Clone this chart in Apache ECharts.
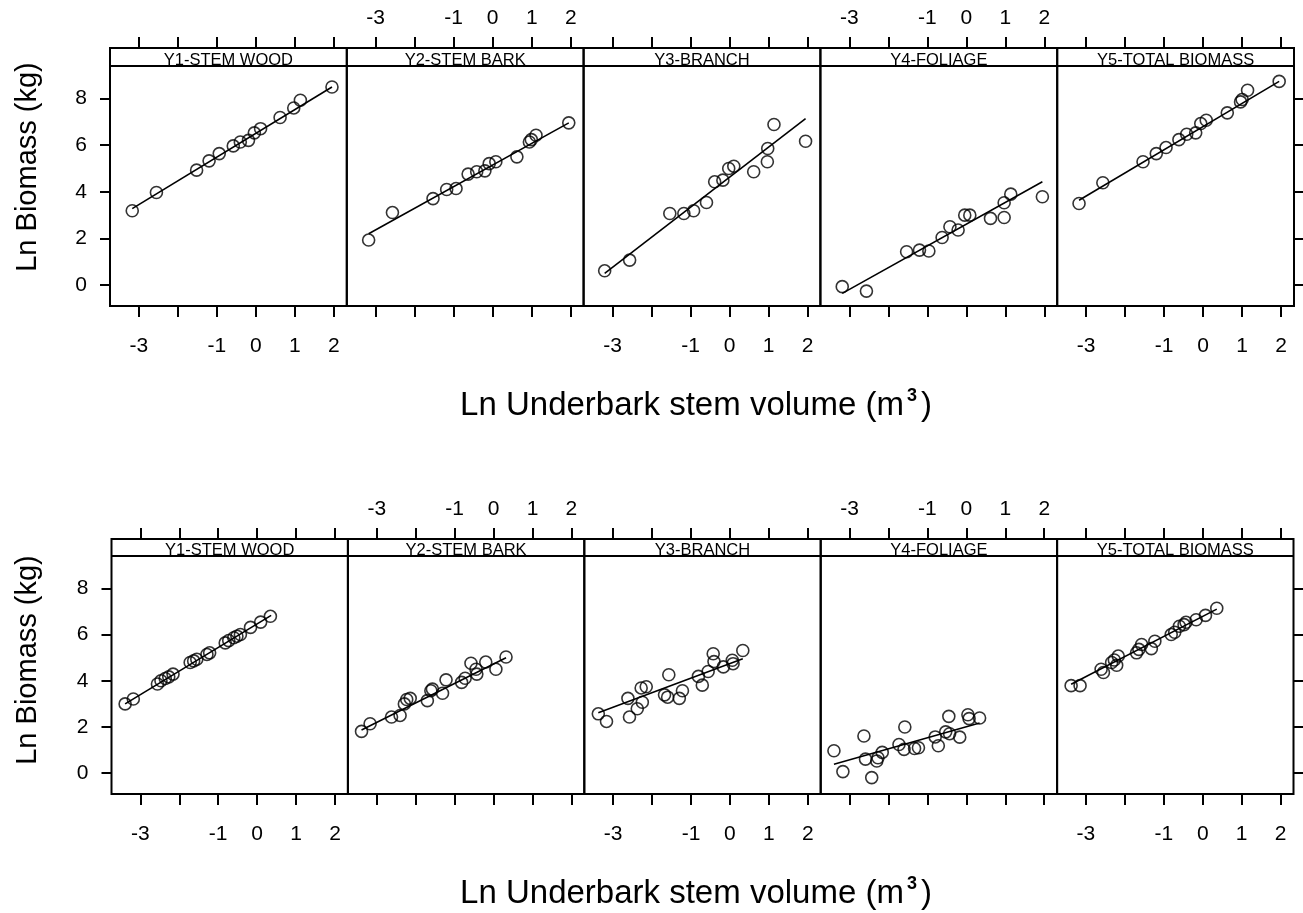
<!DOCTYPE html>
<html><head><meta charset="utf-8">
<script src="https://cdn.jsdelivr.net/npm/echarts@6/dist/echarts.min.js"></script>
<style>html,body{margin:0;padding:0;background:#fff}#c{width:1303px;height:913px}</style>
</head><body><div id="c"></div>
<script>
// ---------- DATA ----------
const panelTitles = ['Y1-STEM WOOD', 'Y2-STEM BARK', 'Y3-BRANCH', 'Y4-FOLIAGE', 'Y5-TOTAL BIOMASS'];
const xTickValues = [-3, -2, -1, 0, 1, 2];
const xLabelValues = [-3, -1, 0, 1, 2];
const yTickValues = [0, 2, 4, 6, 8];
const yLabelValues = [0, 2, 4, 6, 8];
const yAxisTitle = 'Ln Biomass (kg)';
const xAxisTitleMain = 'Ln Underbark stem volume (m';
const xAxisTitleSup = '3';

// Top row: [ln volume, ln biomass]
const topStemWood = [[-3.17,3.19],[-2.55,3.97],[-1.52,4.93],[-1.20,5.33],[-0.94,5.64],[-0.58,5.97],[-0.40,6.14],[-0.19,6.21],[-0.04,6.53],[0.12,6.71],[0.62,7.19],[0.97,7.60],[1.14,7.93],[1.95,8.50]];
const topStemBark = [[-3.18,1.93],[-2.57,3.11],[-1.53,3.71],[-1.18,4.10],[-0.94,4.14],[-0.63,4.76],[-0.41,4.86],[-0.20,4.90],[-0.09,5.21],[0.08,5.29],[0.62,5.50],[0.94,6.14],[0.99,6.24],[1.11,6.43],[1.95,6.96]];
const topBranch = [[-3.20,0.61],[-2.56,1.07],[-1.53,3.07],[-1.17,3.07],[-0.92,3.19],[-0.59,3.54],[-0.38,4.43],[-0.17,4.50],[-0.02,5.00],[0.11,5.10],[0.62,4.86],[0.97,5.29],[0.98,5.86],[1.14,6.89],[1.95,6.17]];
const topFoliage = [[-3.18,-0.07],[-2.56,-0.26],[-1.53,1.43],[-1.20,1.50],[-0.96,1.46],[-0.62,2.04],[-0.42,2.50],[-0.21,2.36],[-0.04,3.00],[0.09,3.00],[0.62,2.86],[0.97,2.90],[0.97,3.53],[1.14,3.90],[1.95,3.79]];
const topTotal = [[-3.18,3.50],[-2.57,4.39],[-1.54,5.29],[-1.20,5.64],[-0.95,5.90],[-0.62,6.24],[-0.42,6.47],[-0.19,6.53],[-0.06,6.93],[0.08,7.07],[0.62,7.39],[0.96,7.86],[1.00,7.96],[1.14,8.36],[1.95,8.74]];
// fitted lines: [x0, y0, x1, y1]
const topFits = [[-3.17,3.28,1.95,8.50],[-3.18,2.20,1.95,6.96],[-3.20,0.50,1.95,7.14],[-3.18,-0.36,1.95,4.43],[-3.18,3.64,1.95,8.74]];

// Bottom row
const botStemWood = [[-3.39,3.00],[-3.18,3.21],[-2.56,3.86],[-2.47,4.00],[-2.36,4.10],[-2.27,4.17],[-2.16,4.29],[-1.72,4.79],[-1.63,4.86],[-1.55,4.93],[-1.29,5.14],[-1.22,5.21],[-0.82,5.64],[-0.73,5.74],[-0.60,5.86],[-0.52,5.93],[-0.43,6.00],[-0.17,6.31],[0.09,6.54],[0.34,6.79]];
const botStemBark = [[-3.39,1.81],[-3.17,2.14],[-2.62,2.43],[-2.40,2.50],[-2.29,3.00],[-2.23,3.19],[-2.14,3.24],[-1.70,3.14],[-1.61,3.57],[-1.57,3.64],[-1.31,3.46],[-1.22,4.04],[-0.82,3.93],[-0.73,4.11],[-0.58,4.76],[-0.45,4.50],[-0.43,4.29],[-0.20,4.81],[0.06,4.50],[0.32,5.03]];
const botBranch = [[-3.38,2.57],[-3.17,2.24],[-2.62,3.24],[-2.58,2.43],[-2.38,2.79],[-2.25,3.07],[-2.28,3.69],[-2.15,3.74],[-1.68,3.39],[-1.60,3.29],[-1.57,4.26],[-1.30,3.24],[-1.22,3.57],[-0.81,4.19],[-0.71,3.81],[-0.56,4.40],[-0.43,5.17],[-0.41,4.83],[-0.17,4.60],[0.08,4.74],[0.06,4.89],[0.33,5.31]];
const botFoliage = [[-3.40,0.97],[-3.17,0.07],[-2.63,1.61],[-2.59,0.61],[-2.43,-0.19],[-2.30,0.53],[-2.27,0.67],[-2.16,0.90],[-1.73,1.24],[-1.60,1.03],[-1.58,2.00],[-1.33,1.07],[-1.23,1.10],[-0.80,1.57],[-0.72,1.19],[-0.53,1.79],[-0.43,1.71],[-0.45,2.46],[-0.17,1.56],[0.04,2.53],[0.07,2.36],[0.34,2.39]];
const botTotal = [[-3.38,3.79],[-3.15,3.79],[-2.61,4.50],[-2.55,4.36],[-2.34,4.79],[-2.27,4.90],[-2.17,5.07],[-2.21,4.67],[-1.70,5.21],[-1.64,5.36],[-1.57,5.57],[-1.32,5.39],[-1.23,5.71],[-0.81,6.00],[-0.72,6.10],[-0.60,6.36],[-0.48,6.43],[-0.43,6.53],[-0.17,6.64],[0.07,6.83],[0.36,7.14]];
const botFits = [[-3.39,3.00,0.36,6.83],[-3.39,1.87,0.32,5.00],[-3.38,2.62,0.33,4.95],[-3.40,0.39,0.34,2.17],[-3.38,3.85,0.36,7.10]];

// ---------- LAYOUT ----------
const FONT = 'Liberation Sans, Arial, Helvetica, sans-serif';
const xMin = -3.74, xMax = 2.33, yMin = -0.9, yMax = 9.4;
const rows = [
  {panelTop: 48, stripBottom: 66, panelBottom: 306, left: 110, width: 236.8,
   data: [topStemWood, topStemBark, topBranch, topFoliage, topTotal], fits: topFits, yTitleY: 167, xTitleY: 406},
  {panelTop: 539, stripBottom: 556, panelBottom: 794, left: 111.5, width: 236.4,
   data: [botStemWood, botStemBark, botBranch, botFoliage, botTotal], fits: botFits, yTitleY: 660, xTitleY: 894}
];

const option = {animation: false, backgroundColor: '#fff', grid: [], xAxis: [], yAxis: [], series: [], graphic: []};
const tickStyle = {color: '#000', width: 2};
const labelStyle = {fontSize: 21, color: '#000', fontFamily: FONT};

rows.forEach((row, r) => {
  for (let c = 0; c < 5; c++) {
    const gi = r * 5 + c;
    const left = row.left + c * row.width;
    const h = row.panelBottom - row.stripBottom;
    option.grid.push({left: left, top: row.stripBottom, width: row.width, height: h, show: false});
    option.xAxis.push({
      gridIndex: gi, type: 'value', position: 'bottom', min: xMin, max: xMax,
      splitLine: {show: false}, axisLine: {show: false, onZero: false},
      axisTick: {show: true, inside: false, length: 11, customValues: xTickValues, lineStyle: tickStyle},
      axisLabel: Object.assign({show: c % 2 === 0, customValues: xLabelValues, margin: 30}, labelStyle)
    });
    option.xAxis.push({
      gridIndex: gi, type: 'value', position: 'top', offset: row.stripBottom - row.panelTop, min: xMin, max: xMax,
      splitLine: {show: false}, axisLine: {show: false, onZero: false},
      axisTick: {show: true, inside: false, length: 11, customValues: xTickValues, lineStyle: tickStyle},
      axisLabel: Object.assign({show: c % 2 === 1, customValues: xLabelValues, margin: 19}, labelStyle)
    });
    option.yAxis.push({
      gridIndex: gi, type: 'value', position: c === 4 ? 'right' : 'left', min: yMin, max: yMax,
      splitLine: {show: false}, axisLine: {show: false, onZero: false},
      axisTick: {show: c === 0 || c === 4, inside: false, length: 10, customValues: yTickValues, lineStyle: tickStyle},
      axisLabel: Object.assign({show: c === 0, customValues: yLabelValues, margin: 23}, labelStyle)
    });
    const f = row.fits[c];
    option.series.push({
      type: 'line', xAxisIndex: 2 * gi, yAxisIndex: gi, data: [[f[0], f[1]], [f[2], f[3]]],
      symbol: 'none', lineStyle: {color: '#000', width: 1.6}, z: 2
    });
    option.series.push({
      type: 'scatter', xAxisIndex: 2 * gi, yAxisIndex: gi, data: row.data[c],
      symbol: 'circle', symbolSize: 12,
      itemStyle: {color: 'rgba(0,0,0,0)', borderColor: '#000', borderWidth: 1.6}, z: 3
    });
    // strip text, clipped look
    option.graphic.push({type: 'text', x: left + row.width / 2, y: row.stripBottom + 3, z: 10,
      style: {text: panelTitles[c], font: '16.5px ' + FONT, fill: '#000', textAlign: 'center', textVerticalAlign: 'bottom'}});
    option.graphic.push({type: 'rect', z: 11, shape: {x: left + 1.5, y: row.stripBottom, width: row.width - 3, height: 7},
      style: {fill: '#fff'}});
    option.graphic.push({type: 'rect', z: 12, shape: {x: left, y: row.panelTop, width: row.width, height: row.panelBottom - row.panelTop},
      style: {fill: 'none', stroke: '#000', lineWidth: 2}});
    option.graphic.push({type: 'line', z: 12, shape: {x1: left, y1: row.stripBottom, x2: left + row.width, y2: row.stripBottom},
      style: {stroke: '#000', lineWidth: 2}});
  }
  option.graphic.push({type: 'text', x: 28, y: row.yTitleY, rotation: Math.PI / 2, z: 10,
    style: {text: yAxisTitle, font: '29px ' + FONT, fill: '#000', textAlign: 'center', textVerticalAlign: 'middle'}});
  option.graphic.push({type: 'text', x: 696, y: row.xTitleY, z: 10,
    style: {text: '{a|' + xAxisTitleMain + '}{s|' + xAxisTitleSup + '}{a|)}', textAlign: 'center', textVerticalAlign: 'middle',
      rich: {a: {font: '33px ' + FONT, fill: '#000', lineHeight: 37},
             s: {font: 'bold 18px ' + FONT, fill: '#000', verticalAlign: 'top', lineHeight: 29, padding: [0, 4, 0, 3]}}}});
});

const chart = echarts.init(document.getElementById('c'), null, {renderer: 'canvas'});
chart.setOption(option);
</script>
</body></html>
